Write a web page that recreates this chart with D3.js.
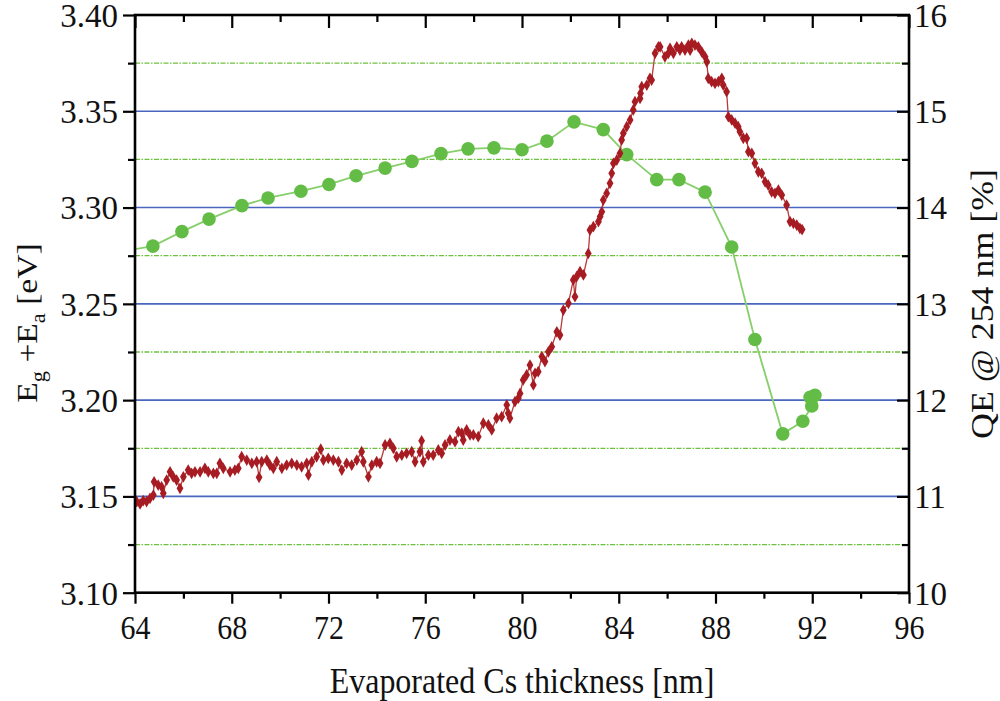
<!DOCTYPE html>
<html>
<head>
<meta charset="utf-8">
<script src="https://cdn.jsdelivr.net/npm/d3@7"></script>
<style>
  body { margin: 0; background: #fff; }
  svg text { font-family: "Liberation Serif", "Times New Roman", serif; fill: #111; }
</style>
</head>
<body>
<svg id="chart" width="1000" height="701"></svg>
<script>
// Eg+Ea scan versus evaporated Cs thickness (left axis)
const csThickness = [
  64.07,64.21,64.34,64.48,64.62,64.76,64.79,64.96,65.10,65.17,
  65.31,65.45,65.58,65.72,65.86,66.00,66.20,66.34,66.48,66.69,
  66.89,67.03,67.24,67.38,67.51,67.65,67.93,68.13,68.27,68.41,
  68.62,68.83,69.03,69.13,69.24,69.45,69.58,69.72,69.86,70.07,
  70.27,70.48,70.69,70.89,71.10,71.17,71.31,71.51,71.68,71.79,
  71.99,72.20,72.41,72.55,72.75,72.96,73.17,73.37,73.44,73.65,
  73.79,73.99,74.13,74.34,74.54,74.68,74.82,75.03,75.23,75.44,
  75.58,75.78,75.85,75.92,76.13,76.33,76.54,76.68,76.82,77.02,
  77.23,77.37,77.51,77.57,77.71,77.85,77.99,78.19,78.40,78.61,
  78.75,78.95,79.16,79.37,79.43,79.50,79.71,79.85,79.92,80.05,
  80.19,80.33,80.47,80.54,80.67,80.82,80.95,81.09,81.23,81.44,
  81.57,81.71,81.92,82.12,82.19,82.26,82.40,82.54,82.74,82.81,
  82.95,83.16,83.23,83.30,83.36,83.50,83.64,83.71,83.78,83.92,
  84.05,84.12,84.19,84.33,84.47,84.60,84.67,84.88,84.90,84.95,
  85.16,85.29,85.36,85.50,85.64,85.71,85.91,86.05,86.12,86.26,
  86.40,86.53,86.60,86.74,86.88,86.95,87.02,87.15,87.29,87.43,
  87.57,87.64,87.70,87.84,87.98,88.12,88.26,88.32,88.46,88.53,
  88.67,88.81,88.94,89.01,89.15,89.29,89.36,89.50,89.63,89.77,
  89.91,90.05,90.18,90.32,90.46,90.60,90.74,90.94,91.08,91.22,
  91.36,91.49,91.58
];
const bandEnergy = [
  3.1473,3.1461,3.1478,3.1473,3.1490,3.1507,3.1576,3.1559,3.1550,3.1516,
  3.1585,3.1628,3.1602,3.1585,3.1542,3.1602,3.1637,3.1620,3.1628,3.1628,
  3.1646,3.1628,3.1620,3.1620,3.1672,3.1646,3.1628,3.1637,3.1646,3.1706,
  3.1689,3.1672,3.1680,3.1599,3.1680,3.1689,3.1663,3.1646,3.1680,3.1646,
  3.1663,3.1672,3.1663,3.1654,3.1672,3.1611,3.1680,3.1706,3.1745,3.1689,
  3.1698,3.1689,3.1680,3.1637,3.1672,3.1663,3.1689,3.1732,3.1680,3.1602,
  3.1663,3.1680,3.1672,3.1767,3.1776,3.1750,3.1706,3.1715,3.1724,3.1732,
  3.1680,3.1732,3.1789,3.1680,3.1715,3.1715,3.1741,3.1724,3.1767,3.1793,
  3.1784,3.1836,3.1828,3.1793,3.1845,3.1819,3.1819,3.1810,3.1880,3.1871,
  3.1845,3.1906,3.1914,3.1975,3.1932,3.1906,3.1992,3.2010,3.2035,3.2105,
  3.2131,3.2182,3.2079,3.2139,3.2148,3.2226,3.2200,3.2251,3.2277,3.2355,
  3.2338,3.2468,3.2503,3.2624,3.2537,3.2641,3.2667,3.2650,3.2762,3.2883,
  3.2901,3.2927,3.2953,3.2978,3.3039,3.3074,3.3126,3.3178,3.3230,3.3247,
  3.3282,3.3351,3.3386,3.3420,3.3455,3.3507,3.3550,3.3567,3.3593,3.3628,
  3.3636,3.3671,3.3662,3.3801,3.3835,3.3835,3.3783,3.3801,3.3827,3.3801,
  3.3835,3.3818,3.3835,3.3818,3.3844,3.3818,3.3853,3.3844,3.3835,3.3809,
  3.3783,3.3757,3.3671,3.3654,3.3645,3.3654,3.3671,3.3636,3.3602,3.3472,
  3.3455,3.3438,3.3420,3.3394,3.3360,3.3360,3.3290,3.3282,3.3230,3.3186,
  3.3178,3.3134,3.3117,3.3082,3.3074,3.3091,3.3065,3.3013,3.2927,3.2918,
  3.2909,3.2892,3.2886
];

// Quantum efficiency at 254 nm (right axis)
const qeThickness = [63.59,64.74,65.94,67.06,68.42,69.50,70.86,72.02,73.14,74.34,
  75.45,76.65,77.77,78.84,80.00,81.03,82.15,83.36,84.33,85.57,
  86.49,87.57,88.67,89.63,90.78,91.61,91.98,91.91,92.11];
const qeValues = [13.55,13.60,13.75,13.88,14.02,14.10,14.17,14.24,14.33,14.41,
  14.48,14.56,14.61,14.62,14.60,14.69,14.89,14.81,14.55,14.29,
  14.29,14.16,13.59,12.63,11.65,11.78,11.94,12.03,12.05];

// Axis ticks
const xMajorTicks = [64, 68, 72, 76, 80, 84, 88, 92, 96];
const xMinorTicks = [66, 70, 74, 78, 82, 86, 90, 94];
const leftMajorTicks = [3.10, 3.15, 3.20, 3.25, 3.30, 3.35, 3.40];
const leftMinorTicks = [3.125, 3.175, 3.225, 3.275, 3.325, 3.375];
const rightMajorTicks = [10, 11, 12, 13, 14, 15, 16];
const rightMinorTicks = [10.5, 11.5, 12.5, 13.5, 14.5, 15.5];

const svg = d3.select("#chart");
const L = 135, R = 909, T = 15, B = 592.7;
const STRETCH = 1.12;      // titles and bottom labels are drawn slightly tall
const Y_STRETCH = 1.04;    // side tick labels

const x = d3.scaleLinear().domain([64, 96]).range([L, R]);
const yL = d3.scaleLinear().domain([3.10, 3.40]).range([B, T]);
const yR = d3.scaleLinear().domain([10, 16]).range([B, T]);

svg.append("rect").attr("width", 1000).attr("height", 701).attr("fill", "#fff");

svg.append("clipPath").attr("id", "plotClip")
  .append("rect").attr("x", L).attr("y", T).attr("width", R - L).attr("height", B - T);

// Grid: solid blue at major energies, dash-dot green at the half steps
const grid = svg.append("g");
grid.selectAll("line.major")
  .data(leftMajorTicks.filter(v => v > 3.11 && v < 3.39))
  .join("line")
  .attr("x1", L).attr("x2", R)
  .attr("y1", d => yL(d)).attr("y2", d => yL(d))
  .attr("stroke", "#4a66bf").attr("stroke-width", 1.6);
grid.selectAll("line.minor")
  .data(leftMinorTicks)
  .join("line")
  .attr("x1", L).attr("x2", R)
  .attr("y1", d => yL(d)).attr("y2", d => yL(d))
  .attr("stroke", "#6cc23f").attr("stroke-width", 1.3)
  .attr("stroke-dasharray", "5,1.5,1.5,1.5");

// QE series
const plot = svg.append("g").attr("clip-path", "url(#plotClip)");
const qeData = d3.zip(qeThickness, qeValues);
plot.append("path")
  .datum(qeData)
  .attr("fill", "none")
  .attr("stroke", "#86cf6b")
  .attr("stroke-width", 1.8)
  .attr("d", d3.line().x(d => x(d[0])).y(d => yR(d[1])));
plot.selectAll("circle.qe")
  .data(qeData)
  .join("circle")
  .attr("cx", d => x(d[0])).attr("cy", d => yR(d[1]))
  .attr("r", 6.8)
  .attr("fill", "#63bc45");

// Eg+Ea series
const egData = d3.zip(csThickness, bandEnergy);
plot.append("path")
  .datum(egData)
  .attr("fill", "none")
  .attr("stroke", "#b83a3a")
  .attr("stroke-width", 1.3)
  .attr("d", d3.line().x(d => x(d[0])).y(d => yL(d[1])));
plot.selectAll("path.eg")
  .data(egData)
  .join("path")
  .attr("transform", d => `translate(${x(d[0])},${yL(d[1])})`)
  .attr("d", d3.symbol().type(d3.symbolDiamond).size(40))
  .attr("fill", "#a61c22");

// Axes
function styleAxis(g) {
  g.select(".domain").remove();
  g.selectAll(".tick line").attr("stroke", "#000").attr("stroke-width", 2.2);
}

// bottom (outward ticks, labels)
svg.append("g").attr("transform", `translate(0,${B})`)
  .call(d3.axisBottom(x).tickValues(xMinorTicks).tickSize(6).tickFormat(""))
  .call(styleAxis);
const bottomAxis = svg.append("g").attr("transform", `translate(0,${B})`)
  .call(d3.axisBottom(x).tickValues(xMajorTicks).tickSize(11).tickPadding(9).tickFormat(d3.format("d")))
  .call(styleAxis);
bottomAxis.selectAll(".tick text")
  .attr("font-size", 30).attr("dy", "0.71em")
  .attr("transform", `scale(1,${STRETCH})`);

// top (inward ticks, no labels)
svg.append("g").attr("transform", `translate(0,${T})`)
  .call(d3.axisTop(x).tickValues(xMinorTicks).tickSize(-7).tickFormat(""))
  .call(styleAxis);
svg.append("g").attr("transform", `translate(0,${T})`)
  .call(d3.axisTop(x).tickValues(xMajorTicks).tickSize(-13).tickFormat(""))
  .call(styleAxis);

// left (outward ticks, labels)
svg.append("g").attr("transform", `translate(${L},0)`)
  .call(d3.axisLeft(yL).tickValues(leftMinorTicks).tickSize(7).tickFormat(""))
  .call(styleAxis);
const leftAxis = svg.append("g").attr("transform", `translate(${L},0)`)
  .call(d3.axisLeft(yL).tickValues(leftMajorTicks).tickSize(12).tickPadding(5).tickFormat(d3.format(".2f")))
  .call(styleAxis);
leftAxis.selectAll(".tick text")
  .attr("font-size", 33).attr("dy", "0.33em")
  .attr("transform", `scale(1,${Y_STRETCH})`);

// right (inward ticks, labels)
svg.append("g").attr("transform", `translate(${R},0)`)
  .call(d3.axisRight(yR).tickValues(rightMinorTicks).tickSize(-7).tickFormat(""))
  .call(styleAxis);
const rightAxis = svg.append("g").attr("transform", `translate(${R},0)`)
  .call(d3.axisRight(yR).tickValues(rightMajorTicks).tickSize(-12).tickPadding(5).tickFormat(d3.format("d")))
  .call(styleAxis);
rightAxis.selectAll(".tick text")
  .attr("font-size", 33).attr("dy", "0.33em")
  .attr("transform", `scale(1,${Y_STRETCH})`);

// Frame
svg.append("rect")
  .attr("x", L).attr("y", T).attr("width", R - L).attr("height", B - T)
  .attr("fill", "none").attr("stroke", "#000").attr("stroke-width", 2.6);

// Axis titles
svg.append("text")
  .attr("transform", `translate(${(L + R) / 2},693) scale(1,${STRETCH})`)
  .attr("text-anchor", "middle")
  .attr("font-size", 32)
  .text("Evaporated Cs thickness [nm]");

const leftTitle = svg.append("text")
  .attr("transform", `translate(37,323) scale(1,${STRETCH}) rotate(-90)`)
  .attr("text-anchor", "middle")
  .attr("font-size", 30);
leftTitle.append("tspan").text("E");
leftTitle.append("tspan").attr("font-size", 20).attr("dy", 8).text("g");
leftTitle.append("tspan").attr("dy", -8).text(" +E");
leftTitle.append("tspan").attr("font-size", 20).attr("dy", 8).text("a");
leftTitle.append("tspan").attr("dy", -8).text(" [eV]");

svg.append("text")
  .attr("transform", `translate(993,304) scale(1,${STRETCH}) rotate(-90)`)
  .attr("text-anchor", "middle")
  .attr("font-size", 32)
  .text("QE @ 254 nm [%]");
</script>
</body>
</html>
